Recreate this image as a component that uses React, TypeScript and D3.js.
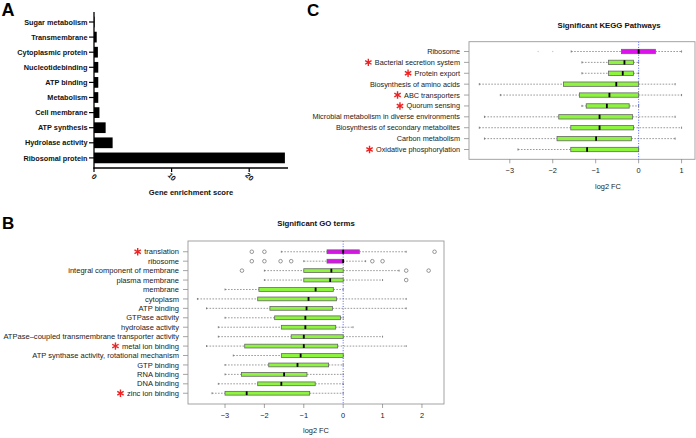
import React from "react";
import * as d3 from "d3";

// ---------- Panel A data ----------
const enrichCategories = [
  "Sugar metabolism",
  "Transmembrane",
  "Cytoplasmic protein",
  "Nucleotidebinding",
  "ATP binding",
  "Metabolism",
  "Cell membrane",
  "ATP synthesis",
  "Hydrolase activity",
  "Ribosomal protein",
];
const enrichScores = [0.08, 0.35, 0.5, 0.55, 0.55, 0.55, 0.7, 1.5, 2.4, 24.6];
const enrichTicks = [0, 10, 20];

// ---------- Panel B data (GO terms) ----------
const goTerms = [
  "translation",
  "ribosome",
  "integral component of membrane",
  "plasma membrane",
  "membrane",
  "cytoplasm",
  "ATP binding",
  "GTPase activity",
  "hydrolase activity",
  "ATPase\u2013coupled transmembrane transporter activity",
  "metal ion binding",
  "ATP synthase activity, rotational mechanism",
  "GTP binding",
  "RNA binding",
  "DNA binding",
  "zinc ion binding",
];
const goStarred = [true, false, false, false, false, false, false, false, false, false, true, false, false, false, false, true];
const goUp = [true, true, false, false, false, false, false, false, false, false, false, false, false, false, false, false];
const goLow = [-1.57, -1.0, -2.0, -2.0, -3.0, -3.7, -3.47, -3.0, -3.17, -3.17, -3.47, -2.79, -3.0, -3.0, -3.17, -3.33];
const goQ1 = [-0.41, -0.41, -1.0, -1.0, -2.14, -2.17, -1.86, -1.74, -1.57, -1.32, -2.5, -1.57, -1.89, -2.58, -2.17, -3.0];
const goMedian = [0, 0, -0.3, -0.33, -0.7, -0.88, -0.93, -0.96, -0.96, -1.0, -1.0, -1.08, -1.16, -1.5, -1.57, -2.45];
const goQ3 = [0.41, 0, 0, 0, -0.25, -0.17, -0.27, -0.07, -0.19, 0, -0.14, 0, -0.37, -0.92, -0.71, -0.85];
const goHigh = [1.6, 0.57, 1.42, 1.0, 0, 1.6, 1.6, 0, 0.25, 1.0, 1.6, 0, 0, 0, 0, 0];
const goOutliers = [
  [-2.32, -2.0, 2.32],
  [-2.32, -2.0, -1.59, -1.32, 0.74, 1.0],
  [-2.57, 1.6, 2.17],
  [1.6],
  [], [], [], [], [], [], [], [], [], [], [], [],
];
const goTicks = [-3, -2, -1, 0, 1, 2];

// ---------- Panel C data (KEGG) ----------
const keggPathways = [
  "Ribosome",
  "Bacterial secretion system",
  "Protein export",
  "Biosynthesis of amino acids",
  "ABC transporters",
  "Quorum sensing",
  "Microbial metabolism in diverse environments",
  "Biosynthesis of secondary metabolites",
  "Carbon metabolism",
  "Oxidative phosphorylation",
];
const keggStarred = [false, true, true, false, true, true, false, false, false, true];
const keggUp = [true, false, false, false, false, false, false, false, false, false];
const keggLow = [-1.57, -1.32, -1.32, -3.71, -3.22, -1.32, -3.59, -3.71, -3.59, -2.81];
const keggQ1 = [-0.4, -0.7, -0.7, -1.75, -1.38, -1.22, -1.86, -1.58, -1.9, -1.58];
const keggMedian = [0, -0.33, -0.37, -0.52, -0.68, -0.74, -0.91, -0.91, -0.99, -1.2];
const keggQ3 = [0.39, -0.12, -0.12, 0, 0, -0.22, -0.14, -0.12, -0.17, 0];
const keggHigh = [1.0, 0, 0, 0.85, 1.0, 0, 0.85, 1.0, 0.85, 0];
const keggOutliers = [[-2.34, -2.0], [], [], [], [], [], [], [], [], []];
const keggTicks = [-3, -2, -1, 0, 1];

const FONT = "'Liberation Sans', Arial, Helvetica, sans-serif";
const GREEN = "#8DF53E";
const MAGENTA = "#DC12EC";

let measureCtx: CanvasRenderingContext2D | null = null;
function textWidth(s: string, size: number, weight = "normal") {
  if (!measureCtx) measureCtx = document.createElement("canvas").getContext("2d");
  if (!measureCtx) return s.length * size * 0.5;
  measureCtx.font = `${weight} ${size}px ${FONT}`;
  return measureCtx.measureText(s).width;
}

const asteriskPath = d3.symbol(d3.symbolAsterisk, 38)() as string;

type BoxProps = {
  labels: string[];
  starred: boolean[];
  up: boolean[];
  low: number[];
  q1: number[];
  med: number[];
  q3: number[];
  high: number[];
  outliers: number[][];
  ticks: number[];
  x: d3.ScaleLinear<number, number>;
  y: d3.ScaleLinear<number, number>;
  frame: [number, number, number, number];
  title: string;
  titleX: number;
  titleY: number;
  xlabX: number;
  xlabY: number;
  labelSize: number;
  faintOutliers?: boolean;
};

function BoxPanel(p: BoxProps) {
  const [fx0, fy0, fx1, fy1] = p.frame;
  const n = p.labels.length;
  const bw = Math.abs(p.y(0.4) - p.y(0));
  const staple = bw / 2;
  const labelRight = fx0 - 9;
  return (
    <g>
      <text x={p.titleX} y={p.titleY} textAnchor="middle" fontFamily={FONT} fontWeight="bold" fontSize={7.8} fill="#111">
        {p.title}
      </text>
      {/* blue dotted zero line */}
      <line x1={p.x(0)} x2={p.x(0)} y1={fy0} y2={fy1} stroke="#2233ff" strokeWidth={0.8} strokeDasharray="1,1.6" />
      {p.labels.map((lab, i) => {
        const yc = p.y(n - i);
        const fill = p.up[i] ? MAGENTA : GREEN;
        const tw = textWidth(lab, p.labelSize);
        return (
          <g key={lab}>
            <text x={labelRight} y={yc + p.labelSize * 0.35} textAnchor="end" fontFamily={FONT} fontSize={p.labelSize} fill="#222">
              {lab}
            </text>
            <line x1={fx0 - 5} x2={fx0} y1={yc} y2={yc} stroke="#666" strokeWidth={0.6} />
            {p.starred[i] && (
              <path d={asteriskPath} transform={`translate(${labelRight - tw - 6.5},${yc})`} stroke="#ee2222" strokeWidth={1.4} fill="none" />
            )}
            {/* whiskers */}
            <line x1={p.x(p.low[i])} x2={p.x(p.q1[i])} y1={yc} y2={yc} stroke="#555" strokeWidth={0.6} strokeDasharray="1.6,1.4" />
            <line x1={p.x(p.q3[i])} x2={p.x(p.high[i])} y1={yc} y2={yc} stroke="#555" strokeWidth={0.6} strokeDasharray="1.6,1.4" />
            <line x1={p.x(p.low[i])} x2={p.x(p.low[i])} y1={yc - staple / 2} y2={yc + staple / 2} stroke="#555" strokeWidth={0.7} />
            <line x1={p.x(p.high[i])} x2={p.x(p.high[i])} y1={yc - staple / 2} y2={yc + staple / 2} stroke="#555" strokeWidth={0.7} />
            {/* box */}
            <rect x={p.x(p.q1[i])} y={yc - bw / 2} width={p.x(p.q3[i]) - p.x(p.q1[i])} height={bw} fill={fill} stroke="#666" strokeWidth={0.8} />
            <line x1={p.x(p.med[i])} x2={p.x(p.med[i])} y1={yc - bw / 2} y2={yc + bw / 2} stroke="#000" strokeWidth={1.8} />
            {p.outliers[i].map((o, j) =>
              p.faintOutliers ? (
                <circle key={j} cx={p.x(o)} cy={yc} r={0.7} fill="#c8c8c8" />
              ) : (
                <circle key={j} cx={p.x(o)} cy={yc} r={1.8} fill="none" stroke="#555" strokeWidth={0.6} />
              )
            )}
          </g>
        );
      })}
      {/* frame */}
      <rect x={fx0} y={fy0} width={fx1 - fx0} height={fy1 - fy0} fill="none" stroke="#999" strokeWidth={0.9} />
      {p.ticks.map((t) => (
        <g key={t}>
          <line x1={p.x(t)} x2={p.x(t)} y1={fy1} y2={fy1 + 4} stroke="#666" strokeWidth={0.6} />
          <text x={p.x(t)} y={fy1 + 14} textAnchor="middle" fontFamily={FONT} fontSize={7.4} fill="#222">
            {t < 0 ? "\u2212" + Math.abs(t) : String(t)}
          </text>
        </g>
      ))}
      <text x={p.xlabX} y={p.xlabY} textAnchor="middle" fontFamily={FONT} fontSize={7.4} fill="#222">
        log2 FC
      </text>
    </g>
  );
}

function EnrichPanel() {
  const x = d3.scaleLinear().domain([0, 25]).range([94, 288]);
  const y = d3.scaleBand<string>().domain(enrichCategories).range([14.45, 165.45]).paddingInner(0.29).paddingOuter(0.145);
  return (
    <g>
      {enrichCategories.map((c, i) => (
        <g key={c}>
          <rect x={x(0)} y={y(c)} width={x(enrichScores[i]) - x(0)} height={y.bandwidth()} fill="#000" />
          <line x1={89} x2={94} y1={(y(c) as number) + y.bandwidth() / 2} y2={(y(c) as number) + y.bandwidth() / 2} stroke="#000" strokeWidth={1.2} />
          <text x={87.5} y={(y(c) as number) + y.bandwidth() / 2 + 2.6} textAnchor="end" fontFamily={FONT} fontWeight="bold" fontSize={7.3} fill="#111">
            {c}
          </text>
        </g>
      ))}
      <line x1={x(0)} x2={x(0)} y1={12} y2={168.5} stroke="#000" strokeWidth={1.3} />
      <line x1={x(0) - 0.6} x2={x(25)} y1={168} y2={168} stroke="#000" strokeWidth={1.3} />
      {enrichTicks.map((t) => (
        <g key={t}>
          <line x1={x(t)} x2={x(t)} y1={168} y2={172} stroke="#000" strokeWidth={1.2} />
          <text transform={`translate(${x(t)},${177}) rotate(45)`} textAnchor="middle" dy="0.3em" fontFamily={FONT} fontWeight="bold" fontSize={7.3} fill="#111">
            {t}
          </text>
        </g>
      ))}
      <text x={(x(0) + x(25)) / 2} y={195} textAnchor="middle" fontFamily={FONT} fontWeight="bold" fontSize={7.6} fill="#111">
        Gene enrichment score
      </text>
    </g>
  );
}

export default function App() {
  const xB = d3.scaleLinear().domain([-3.94, 2.56]).range([188, 444]);
  const yB = d3.scaleLinear().domain([-0.14, 17.14]).range([404, 241]);
  const xC = d3.scaleLinear().domain([-3.95, 2.57]).range([469, 749]);
  const yC = d3.scaleLinear().domain([0.1, 10.9]).range([159.3, 41.7]);
  return (
    <svg width={696} height={438} style={{ position: "absolute", left: 0, top: 0, background: "#fff" }}>
      <rect width={696} height={438} fill="#fff" />
      <text x={1.5} y={15.5} fontFamily={FONT} fontWeight="bold" fontSize={18} fill="#000">A</text>
      <text x={2} y={228.5} fontFamily={FONT} fontWeight="bold" fontSize={17} fill="#000">B</text>
      <text x={307} y={15.5} fontFamily={FONT} fontWeight="bold" fontSize={17} fill="#000">C</text>
      <EnrichPanel />
      <BoxPanel
        labels={goTerms}
        starred={goStarred}
        up={goUp}
        low={goLow}
        q1={goQ1}
        med={goMedian}
        q3={goQ3}
        high={goHigh}
        outliers={goOutliers}
        ticks={goTicks}
        x={xB}
        y={yB}
        frame={[188, 241, 444, 404]}
        title="Significant GO terms"
        titleX={316}
        titleY={226}
        xlabX={316}
        xlabY={433}
        labelSize={7.55}
      />
      <BoxPanel
        labels={keggPathways}
        starred={keggStarred}
        up={keggUp}
        low={keggLow}
        q1={keggQ1}
        med={keggMedian}
        q3={keggQ3}
        high={keggHigh}
        outliers={keggOutliers}
        ticks={keggTicks}
        x={xC}
        y={yC}
        frame={[469, 41.7, 695, 159.3]}
        title="Significant KEGG Pathways"
        titleX={609}
        titleY={28}
        xlabX={608}
        xlabY={189}
        labelSize={7.3}
        faintOutliers
      />
    </svg>
  );
}
